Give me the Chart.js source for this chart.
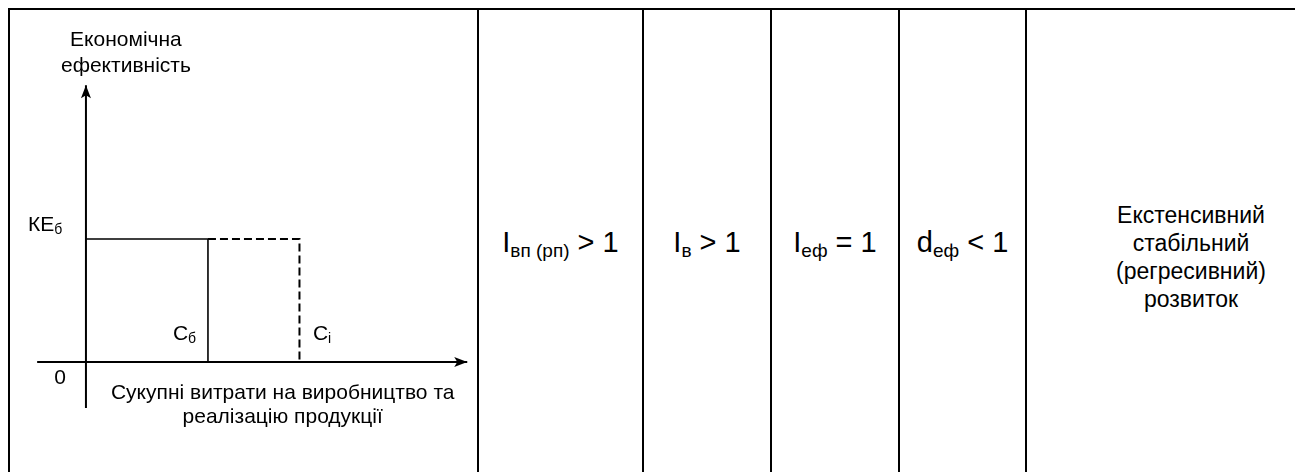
<!DOCTYPE html>
<html lang="uk">
<head>
<meta charset="UTF-8">
<title>Екстенсивний стабільний розвиток</title>
<script src="https://cdn.jsdelivr.net/npm/chart.js"></script>
<style>
  html, body { margin: 0; padding: 0; background: #fff; overflow: hidden; }
  body { width: 1295px; height: 472px; position: relative; font-family: "Liberation Sans", Arial, sans-serif; color: #000; }
  .tabl { position: absolute; left: 8px; top: 8px; height: 520px; display: flex; border-top: 2px solid #000; }
  .cell { box-sizing: border-box; border-left: 2px solid #000; height: 100%; position: relative; text-align: center; }
  .c1 { width: 469px; }
  .c2 { width: 165px; }
  .c3 { width: 128px; }
  .c4 { width: 128px; }
  .c5 { width: 127px; }
  .c6 { width: 330px; }
  .one { padding-top: 215px; font-size: 29px; line-height: 34px; }
  .many { padding-top: 191px; font-size: 23px; line-height: 28px; }
  .sub { font-size: 19px; line-height: 0; vertical-align: -5px; }
  .plot { position: absolute; left: 0; top: 0; }
</style>
</head>
<body>
<div class="tabl">
  <div class="cell c1"><canvas id="grafik" class="plot" width="467" height="462"></canvas></div>
  <div class="cell c2 one">I<span class="sub">вп (рп)</span> &gt; 1</div>
  <div class="cell c3 one">I<span class="sub">в</span> &gt; 1</div>
  <div class="cell c4 one">I<span class="sub">еф</span> = 1</div>
  <div class="cell c5 one">d<span class="sub">еф</span> &lt; 1</div>
  <div class="cell c6 many">Екстенсивний<br>стабільний<br>(регресивний)<br>розвиток</div>
</div>

<script>
// значення на графіку
var vytraty = [0, 4, 7];          // 0, Сб, Сi
var efekt = [0, 4];               // 0, КЕб
var osX = [-1.6, 12.5];           // кінці горизонтальної осі
var osY = [-1.5, 9.0];            // кінці вертикальної осі

var shryft = '"Liberation Sans", Arial, sans-serif';

// підписи: текст, індекс, позиція (в одиницях осей), вирівнювання
var pidpysy = [
  { t: 'Економічна', x: 1.31, y: 10.47, a: 'center' },
  { t: 'ефективність', x: 1.31, y: 9.63, a: 'center' },
  { t: 'КЕ', s: 'б', x: -1.9, y: 4.45, a: 'left' },
  { t: '0', x: -0.85, y: -0.52, a: 'center' },
  { t: 'С', s: 'б', x: 2.85, y: 0.91, a: 'left' },
  { t: 'С', s: 'і', x: 7.44, y: 0.91, a: 'left' },
  { t: 'Сукупні витрати на виробництво та', x: 6.45, y: -1.01, a: 'center' },
  { t: 'реалізацію продукції', x: 6.45, y: -1.79, a: 'center' }
];

var strilky = {
  id: 'strilky',
  afterDatasetsDraw: function (chart) {
    var ctx = chart.ctx;
    var sx = chart.scales.x, sy = chart.scales.y;
    ctx.save();
    ctx.fillStyle = '#000';
    // вгору
    var tx = sx.getPixelForValue(0), ty = sy.getPixelForValue(osY[1]);
    ctx.beginPath();
    ctx.moveTo(tx, ty);
    ctx.lineTo(tx - 5, ty + 13);
    ctx.lineTo(tx, ty + 10);
    ctx.lineTo(tx + 5, ty + 13);
    ctx.closePath();
    ctx.fill();
    // вправо
    tx = sx.getPixelForValue(osX[1]); ty = sy.getPixelForValue(0);
    ctx.beginPath();
    ctx.moveTo(tx, ty);
    ctx.lineTo(tx - 13, ty - 5);
    ctx.lineTo(tx - 10, ty);
    ctx.lineTo(tx - 13, ty + 5);
    ctx.closePath();
    ctx.fill();

    // підписи
    ctx.textBaseline = 'middle';
    pidpysy.forEach(function (p) {
      var px = sx.getPixelForValue(p.x), py = sy.getPixelForValue(p.y);
      ctx.font = '21px ' + shryft;
      ctx.textAlign = p.a;
      ctx.fillText(p.t, px, py);
      if (p.s) {
        var w = ctx.measureText(p.t).width;
        ctx.font = '14px ' + shryft;
        ctx.textAlign = 'left';
        ctx.fillText(p.s, px + w, py + 5);
      }
    });
    ctx.restore();
  }
};

new Chart(document.getElementById('grafik').getContext('2d'), {
  type: 'scatter',
  data: {
    datasets: [
      { data: [{ x: 0, y: osY[0] }, { x: 0, y: osY[1] }], showLine: true, borderColor: '#000', borderWidth: 2 },
      { data: [{ x: osX[0], y: 0 }, { x: osX[1], y: 0 }], showLine: true, borderColor: '#000', borderWidth: 2 },
      { data: [{ x: vytraty[0], y: efekt[1] }, { x: vytraty[1], y: efekt[1] }, { x: vytraty[1], y: efekt[0] }],
        showLine: true, borderColor: '#000', borderWidth: 1.6 },
      { data: [{ x: vytraty[1], y: efekt[1] }, { x: vytraty[2], y: efekt[1] }, { x: vytraty[2], y: efekt[0] }],
        showLine: true, borderColor: '#000', borderWidth: 2, borderDash: [8, 4] }
    ]
  },
  options: {
    responsive: false,
    animation: false,
    layout: { padding: 0 },
    elements: { point: { radius: 0, hoverRadius: 0 }, line: { tension: 0 } },
    scales: {
      x: { type: 'linear', display: false, min: -2.49, max: 12.82 },
      y: { type: 'linear', display: false, min: -3.58, max: 11.45 }
    },
    plugins: { legend: { display: false }, tooltip: { enabled: false } }
  },
  plugins: [strilky]
});
</script>
</body>
</html>
